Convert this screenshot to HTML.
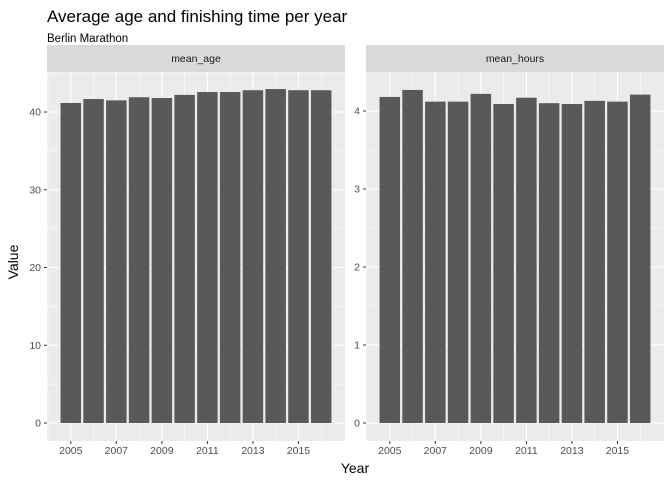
<!DOCTYPE html>
<html><head><meta charset="utf-8"><style>
body{margin:0;background:#fff;}
svg text{font-family:"Liberation Sans",sans-serif;}
</style></head><body>
<svg id="chart" width="672" height="480" viewBox="0 0 672 480" xmlns="http://www.w3.org/2000/svg">
<text x="47" y="22" font-size="17" fill="#000">Average age and finishing time per year</text>
<text x="47" y="42" font-size="11.5" fill="#000">Berlin Marathon</text>
<text transform="translate(18,262) rotate(-90)" text-anchor="middle" font-size="14" fill="#000">Value</text>
<text x="355" y="473" text-anchor="middle" font-size="14" fill="#000">Year</text>
</svg>
<script>
const years=[2005,2006,2007,2008,2009,2010,2011,2012,2013,2014,2015,2016];
const meanAge=[41.16,41.67,41.5,41.9,41.8,42.2,42.57,42.57,42.8,42.95,42.8,42.8];
const meanHours=[4.18,4.27,4.12,4.12,4.22,4.09,4.17,4.10,4.09,4.13,4.12,4.21];
const xTicks=[2005,2007,2009,2011,2013,2015];
const ageTicks=[0,10,20,30,40];
const hourTicks=[0,1,2,3,4];
const NS='http://www.w3.org/2000/svg';
const svg=document.getElementById('chart');
function mk(tag,attrs,parent){const e=document.createElementNS(NS,tag);for(const k in attrs)e.setAttribute(k,attrs[k]);(parent||svg).appendChild(e);return e;}
function panel(x0,x1,label,vals,ticks,unitPx,key){
  const top=72,bottom=441,zeroY=423;
  const g=mk('g',{});
  
  
  const strip=mk('rect',{x:x0,y:45,width:x1-x0,height:27,fill:'#d9d9d9'},g);
  
  
  const st=mk('text',{x:(x0+x1)/2,y:62,'text-anchor':'middle','font-size':'10.5',fill:'#1a1a1a'},g);
  st.textContent=label;
  
  
  const bg=mk('rect',{x:x0,y:top,width:x1-x0,height:bottom-top,fill:'#ebebeb'},g);
  
  
  const lo=years[0]-0.45,hi=years[years.length-1]+0.45,ex=(hi-lo)*0.05;
  const xmin=lo-ex,xmax=hi+ex;
  const xs=v=>x0+(v-xmin)/(xmax-xmin)*(x1-x0);
  const ys=v=>zeroY-v*unitPx;
  for(let i=0;i<ticks.length;i++){const m=ticks[i]+(ticks[1]-ticks[0])/2;const y=ys(m);if(y>top)mk('line',{x1:x0,x2:x1,y1:y,y2:y,stroke:'#fff','stroke-width':0.5},g);}
  for(let i=-1;i<xTicks.length;i++){const m=(i<0?xTicks[0]-1:xTicks[i]+1);const x=xs(m);if(x<x1&&x>x0)mk('line',{x1:x,x2:x,y1:top,y2:bottom,stroke:'#fff','stroke-width':0.5},g);}
  ticks.forEach(t=>{const y=ys(t);mk('line',{x1:x0,x2:x1,y1:y,y2:y,stroke:'#fff','stroke-width':1.1},g);
    mk('line',{x1:x0-3,x2:x0,y1:y,y2:y,stroke:'#333','stroke-width':1},g);
    const tl=mk('text',{x:x0-6,y:y+3.5,'text-anchor':'end','font-size':'10.5',fill:'#4d4d4d'},g);tl.textContent=t;
    
    });
  xTicks.forEach(t=>{const x=xs(t);mk('line',{x1:x,x2:x,y1:top,y2:bottom,stroke:'#fff','stroke-width':1.1},g);
    mk('line',{x1:x,x2:x,y1:bottom,y2:bottom+3,stroke:'#333','stroke-width':1},g);
    const tl=mk('text',{x:x,y:bottom+13,'text-anchor':'middle','font-size':'10.5',fill:'#4d4d4d'},g);tl.textContent=t;
    
    });
  const bw=(xs(1)-xs(0))*0.9;
  years.forEach((yr,i)=>{const b=mk('rect',{x:xs(yr)-bw/2,y:ys(vals[i]),width:bw,height:zeroY-ys(vals[i]),fill:'#595959'},g);
    
    });
}
panel(47,345,'mean_age',meanAge,ageTicks,7.775,'mean-age');
panel(366,664,'mean_hours',meanHours,hourTicks,78,'mean-hours');
</script>
</body></html>
